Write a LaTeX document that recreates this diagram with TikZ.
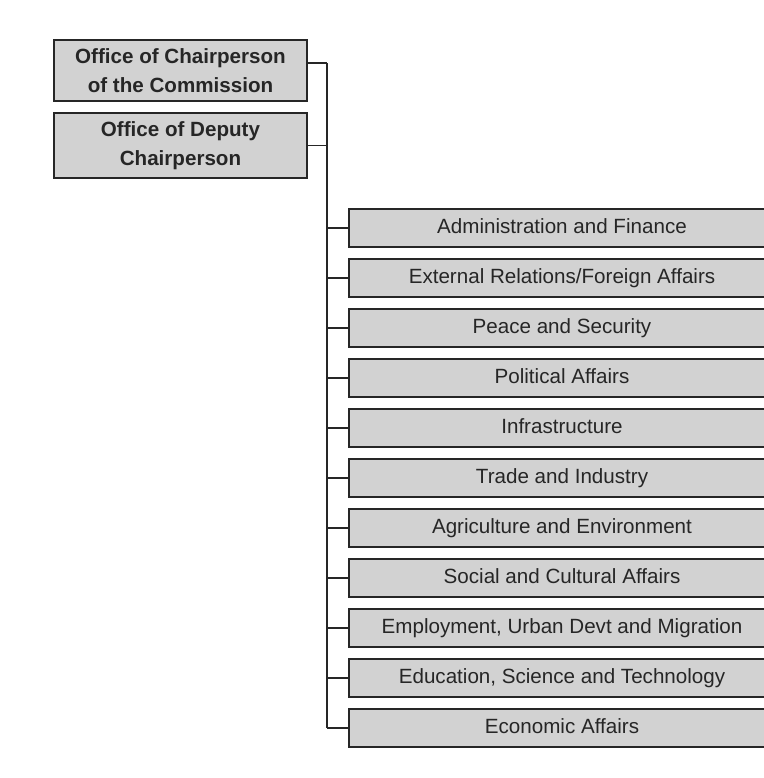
\documentclass[tikz,border=0pt]{standalone}
\usepackage{fontspec}
\setmainfont{Liberation Sans}
\usetikzlibrary{positioning}

\tikzset{
  office/.style={draw=black!85, line width=1.6pt, fill=gray!35, text=black!85,
    minimum width=253pt, align=center, font=\bfseries\fontsize{20.6}{28.5}\selectfont},
  dept/.style={draw=black!85, line width=1.6pt, fill=gray!35, text=black!85,
    minimum width=426pt, minimum height=38pt, inner sep=0pt,
    text height=15pt, text depth=4.5pt,
    font=\fontsize{20.6}{24}\selectfont},
  link/.style={black!85, line width=1.1pt}
}

\begin{document}
\begin{tikzpicture}[x=1pt,y=-1pt]

\useasboundingbox (0,0) rectangle (763,778);

% Offices

\node [office, minimum height=61pt] (chair) at (180.5,70.5) {Office of Chairperson\\of the Commission};
\node [office, minimum height=65pt] (deputy) at (180.5,145.5) {Office of Deputy\\Chairperson};

% Spine

\coordinate (spinetop) at (327,63);
\coordinate (spinebot) at (327,728);
\draw [link, line width=1.4pt] (spinetop) -- (spinebot);

\draw [link] (spinetop -| chair.east) -- (spinetop);
\draw [link] (deputy.east) -- (deputy.east -| spinetop);

% Departments

\foreach \name [count=\i from 0] in {Administration and Finance,
    External Relations/Foreign Affairs, Peace and Security, Political Affairs,
    Infrastructure, Trade and Industry, Agriculture and Environment,
    Social and Cultural Affairs, {Employment, Urban Devt and Migration},
    {Education, Science and Technology}, Economic Affairs}
{
  \node [dept] (d\i) at (562,228+50*\i) {\name};
  \draw [link] (d\i.west) -- (d\i.west -| spinetop);
}

\end{tikzpicture}
\end{document}
